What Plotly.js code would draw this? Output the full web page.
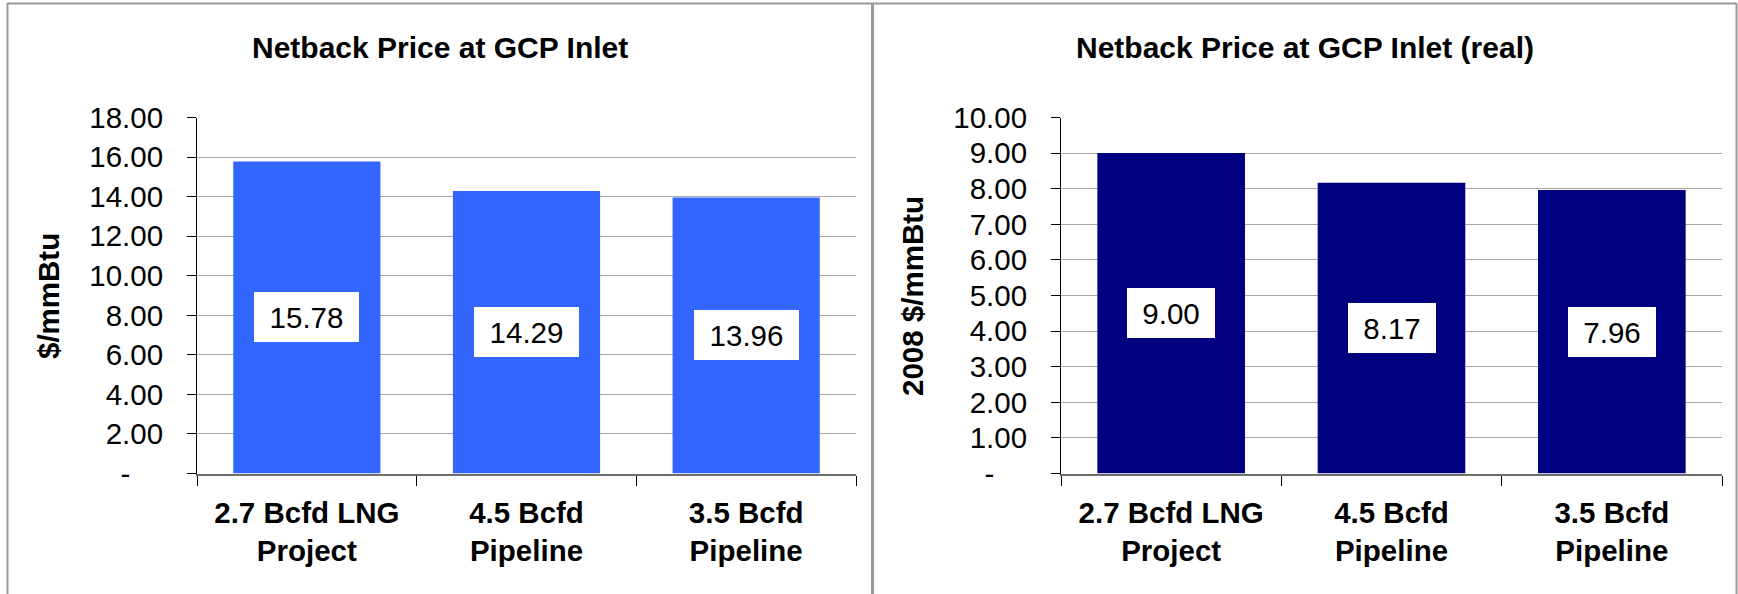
<!DOCTYPE html>
<html>
<head>
<meta charset="utf-8">
<script src="https://cdn.plot.ly/plotly-3.0.1.min.js"></script>
<style>
  html, body { margin: 0; padding: 0; background: #ffffff; }
  #chart { width: 1738px; height: 594px; }
</style>
</head>
<body>
<div id="chart"></div>
<script>
// Netback price comparison: nominal and real (2008 dollars)
const categories = ['2.7 Bcfd LNG<br>Project', '4.5 Bcfd<br>Pipeline', '3.5 Bcfd<br>Pipeline'];
const nominalPrice = [15.78, 14.29, 13.96];
const realPrice = [9.00, 8.17, 7.96];

// accounting-style zero: a dash padded to sit left of the decimals
const ZERO = '-\u00a0\u00a0\u00a0\u00a0';
const nominalTickVals = [0, 2, 4, 6, 8, 10, 12, 14, 16, 18];
const nominalTickText = [ZERO, '2.00', '4.00', '6.00', '8.00', '10.00', '12.00', '14.00', '16.00', '18.00'];
const realTickVals = [0, 1, 2, 3, 4, 5, 6, 7, 8, 9, 10];
const realTickText = [ZERO, '1.00', '2.00', '3.00', '4.00', '5.00', '6.00', '7.00', '8.00', '9.00', '10.00'];

const panelTitles = ['Netback Price at GCP Inlet', 'Netback Price at GCP Inlet (real)'];
const axisTitles = ['$/mmBtu', '2008 $/mmBtu'];

const W = 1738, H = 594;
const fx = p => p / W;
const fy = p => 1 - p / H;

const FONT = 'Liberation Sans, Arial, sans-serif';
const FS = 29.5;

// measure label widths so each value box gets even side padding
const ctx = document.createElement('canvas').getContext('2d');
ctx.font = FS + 'px "Liberation Sans", Arial, sans-serif';
const boxWidth = t => Math.round(ctx.measureText(t).width + 31);

function valueBoxes(vals, xr, yr) {
  return vals.map((v, i) => {
    const t = v.toFixed(2);
    return {
      x: categories[i], y: v / 2, xref: xr, yref: yr,
      text: t, showarrow: false,
      font: { family: FONT, size: FS, color: '#000000' },
      bgcolor: '#ffffff', borderwidth: 0, borderpad: 0,
      width: boxWidth(t), height: 50,
      xanchor: 'center', yanchor: 'middle'
    };
  });
}

const traces = [
  { type: 'bar', x: categories, y: nominalPrice, xaxis: 'x', yaxis: 'y',
    marker: { color: '#3366ff', line: { width: 0 } }, hoverinfo: 'none', showlegend: false },
  { type: 'bar', x: categories, y: realPrice, xaxis: 'x2', yaxis: 'y2',
    marker: { color: '#000080', line: { width: 0 } }, hoverinfo: 'none', showlegend: false }
];

const yTop = fy(117.5), yBot = fy(473.5);

function xAxis(domain) {
  return {
    domain: domain, type: 'category',
    showline: true, linecolor: '#6e6e6e', linewidth: 2,
    ticks: 'outside', tickson: 'boundaries', ticklen: 10, tickcolor: '#000000', tickwidth: 1,
    tickfont: { family: FONT, size: FS, color: '#000000', weight: 'bold' },
    ticklabelstandoff: 12,
    showgrid: false, zeroline: false, fixedrange: true
  };
}
function yAxis(domain, anchor, range, vals, text) {
  return {
    domain: domain, anchor: anchor, range: range,
    tickmode: 'array', tickvals: vals, ticktext: text,
    showline: true, linecolor: '#000000', linewidth: 1,
    ticks: 'outside', ticklen: 9, tickcolor: '#000000', tickwidth: 1,
    tickfont: { family: FONT, size: FS, color: '#000000' },
    ticklabelstandoff: 18,
    showgrid: true, gridcolor: '#a6a6a6', gridwidth: 1,
    zeroline: false, fixedrange: true
  };
}

const layout = {
  width: W, height: H,
  margin: { l: 0, r: 0, t: 0, b: 0, pad: 0 },
  paper_bgcolor: '#ffffff', plot_bgcolor: '#ffffff',
  bargap: 0.33,
  showlegend: false,
  xaxis: Object.assign(xAxis([fx(197), fx(856)]), { anchor: 'y' }),
  yaxis: yAxis([yBot, yTop], 'x', [0, 18], nominalTickVals, nominalTickText),
  xaxis2: Object.assign(xAxis([fx(1061), fx(1722)]), { anchor: 'y2' }),
  yaxis2: yAxis([yBot, yTop], 'x2', [0, 10], realTickVals, realTickText),
  annotations: [
    { text: panelTitles[0], x: fx(440), y: fy(47), xref: 'paper', yref: 'paper',
      xanchor: 'center', yanchor: 'middle', showarrow: false,
      font: { family: FONT, size: 30, color: '#000000', weight: 'bold' } },
    { text: panelTitles[1], x: fx(1305), y: fy(47), xref: 'paper', yref: 'paper',
      xanchor: 'center', yanchor: 'middle', showarrow: false,
      font: { family: FONT, size: 30, color: '#000000', weight: 'bold' } },
    { text: axisTitles[0], x: fx(48), y: fy(296), xref: 'paper', yref: 'paper',
      xanchor: 'center', yanchor: 'middle', showarrow: false, textangle: -90,
      font: { family: FONT, size: FS, color: '#000000', weight: 'bold' } },
    { text: axisTitles[1], x: fx(912), y: fy(296), xref: 'paper', yref: 'paper',
      xanchor: 'center', yanchor: 'middle', showarrow: false, textangle: -90,
      font: { family: FONT, size: FS, color: '#000000', weight: 'bold' } }
  ].concat(valueBoxes(nominalPrice, 'x', 'y'), valueBoxes(realPrice, 'x2', 'y2')),
  shapes: [
    // panel frames
    { type: 'line', xref: 'paper', yref: 'paper', x0: fx(7.5), x1: fx(7.5), y0: fy(3), y1: -0.1,
      line: { color: '#9a9a9a', width: 2 } },
    { type: 'line', xref: 'paper', yref: 'paper', x0: fx(872.5), x1: fx(872.5), y0: fy(3), y1: -0.1,
      line: { color: '#9a9a9a', width: 3 } },
    { type: 'line', xref: 'paper', yref: 'paper', x0: fx(1736.5), x1: fx(1736.5), y0: fy(3), y1: -0.1,
      line: { color: '#9a9a9a', width: 2 } },
    { type: 'line', xref: 'paper', yref: 'paper', x0: fx(7.5), x1: fx(1736.5), y0: fy(3.5), y1: fy(3.5),
      line: { color: '#9a9a9a', width: 2 } }
  ]
};

Plotly.newPlot('chart', traces, layout, { displayModeBar: false, staticPlot: true });
</script>
</body>
</html>
